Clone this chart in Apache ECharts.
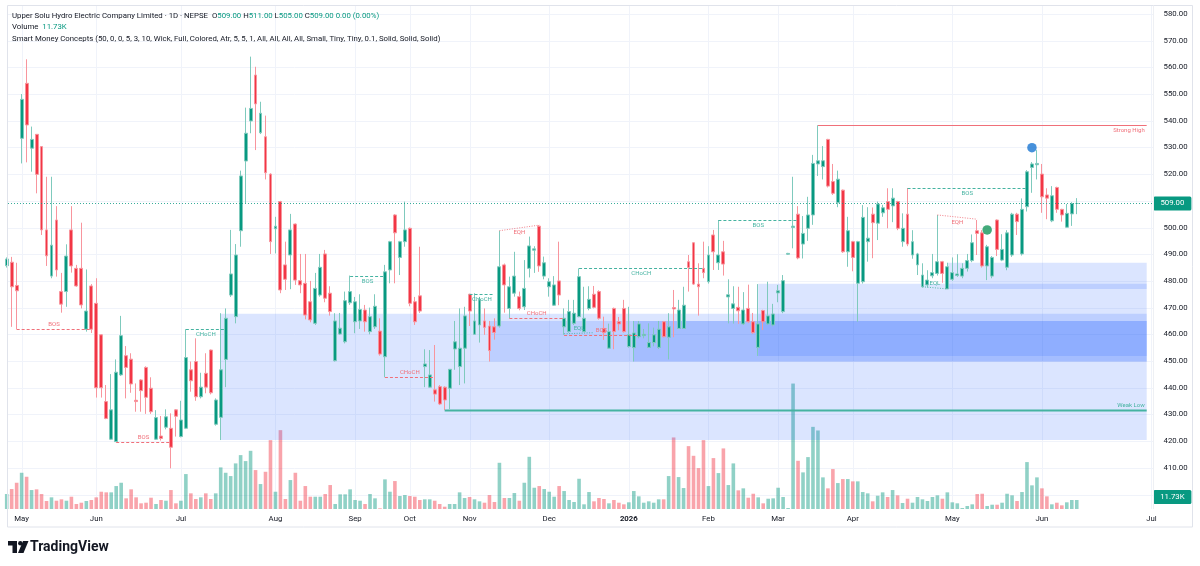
<!DOCTYPE html>
<html><head><meta charset="utf-8">
<script src="https://cdn.jsdelivr.net/npm/echarts@6/dist/echarts.min.js"></script>
<style>html,body{margin:0;padding:0;background:#fff}#c{width:1200px;height:566px}</style>
</head><body><div id="c"></div>
<script>
const opens=[485.7,487.0,478.3,533.4,554.0,529.7,534.9,530.3,499.1,481.8,
502.8,476.0,476.0,499.1,484.7,484.7,461.9,478.1,471.6,459.8,
434.8,420.7,419.8,444.8,452.0,450.7,435.3,442.9,447.6,439.8,
420.7,421.9,425.2,424.8,431.7,421.7,424.8,446.7,449.8,436.6,
445.4,454.1,426.3,428.9,450.6,474.7,466.6,498.8,524.9,539.9,
557.1,535.5,534.0,520.0,499.5,509.7,486.0,489.7,501.3,480.1,
479.1,472.2,464.1,474.7,490.1,475.4,450.1,460.1,457.2,471.8,
464.7,465.0,469.1,461.0,462.8,461.2,451.6,484.1,504.7,488.8,
494.7,499.7,472.2,474.4,447.9,440.2,439.2,440.4,440.2,439.8,
454.5,447.9,454.8,475.0,460.0,463.5,465.0,463.1,462.8,463.1,
486.0,469.7,475.4,474.1,470.3,484.7,491.5,500.5,481.8,477.8,
470.9,480.0,462.8,461.0,464.1,466.6,461.0,469.7,475.0,476.0,
462.2,454.8,469.7,464.7,469.7,455.4,455.0,459.1,459.5,455.1,
456.9,455.1,464.7,458.9,470.0,462.2,462.2,487.2,494.3,478.8,
484.7,479.7,497.2,486.8,490.9,474.0,469.7,470.1,463.9,469.7,
464.7,455.1,468.9,463.9,463.5,475.5,468.5,490.0,500.0,505.0,
493.8,499.7,504.7,523.8,522.8,533.0,517.2,509.3,514.0,490.9,
494.7,479.1,479.7,494.7,505.0,501.6,505.5,509.7,508.1,509.7,
494.7,505.0,489.7,486.0,477.8,478.5,481.9,482.8,487.2,477.0,
480.6,482.0,481.8,484.7,487.6,498.8,498.0,485.6,481.8,502.8,
487.8,485.1,489.7,505.0,490.1,507.8,522.5,523.5,520.0,512.2,
502.5,515.0,506.8,500.1,505.1,509.0];
const highs=[488.8,489.0,486.8,550.0,563.0,537.8,535.0,530.5,519.0,519.0,
508.0,483.0,493.7,508.0,486.0,501.8,484.3,478.8,481.0,460.0,
441.0,445.1,450.6,466.9,455.6,452.9,441.6,443.2,448.0,443.9,
431.6,429.4,431.9,430.4,432.0,435.1,461.9,449.8,458.5,445.6,
452.9,454.3,436.0,467.9,469.7,499.1,493.8,521.3,544.9,564.0,
560.2,547.1,541.9,520.3,504.0,510.0,494.7,505.1,501.5,490.1,
490.1,480.0,483.0,490.1,491.6,478.0,467.9,468.0,476.0,482.0,
474.0,475.0,471.0,470.0,475.0,466.0,486.0,495.0,505.0,495.0,
509.7,500.0,474.0,492.8,454.4,454.1,456.0,441.0,440.5,447.0,
465.0,469.7,470.3,475.2,475.4,474.0,469.7,465.0,466.0,498.8,
486.5,481.6,490.9,476.0,487.8,496.6,493.0,500.9,489.1,481.0,
481.8,494.7,469.7,472.9,472.9,484.7,477.8,478.0,478.1,476.5,
466.6,464.0,470.0,466.5,472.9,470.3,465.0,465.0,462.0,464.1,
462.5,465.0,465.0,467.9,476.6,472.9,477.8,489.7,494.5,486.6,
494.7,493.0,499.1,502.8,495.0,480.6,478.0,477.8,475.8,478.6,
468.0,478.8,469.2,479.7,471.4,478.5,482.2,490.5,519.0,508.0,
504.3,511.5,527.2,538.3,530.5,533.2,523.8,521.3,514.2,504.0,
495.0,495.0,508.4,507.6,507.5,509.7,508.5,514.7,514.7,510.0,
505.3,514.8,499.0,490.5,486.6,484.0,490.1,504.7,487.5,486.8,
488.8,490.0,486.6,490.1,497.4,502.8,499.0,493.5,489.3,503.0,
497.5,499.0,505.5,505.5,510.9,521.5,524.5,529.0,523.8,514.7,
515.5,515.3,507.0,508.8,509.5,511.0];
const lows=[485.0,462.8,461.9,524.0,524.4,520.9,512.8,497.2,485.6,481.0,
481.6,468.1,470.3,483.1,477.8,469.7,461.0,460.5,436.3,436.3,
428.2,420.4,419.8,444.4,436.0,438.1,431.0,431.0,430.2,430.2,
420.4,420.2,424.4,409.8,421.7,421.4,424.5,438.5,435.1,436.0,
437.9,437.5,425.8,420.4,440.2,474.0,464.1,492.8,509.1,535.3,
529.0,535.0,518.0,490.1,490.3,475.4,476.6,476.9,478.5,475.4,
465.6,464.5,463.5,474.1,472.0,467.0,449.8,459.8,456.6,471.0,
460.4,462.0,461.0,460.0,462.0,452.0,443.9,479.1,479.1,482.2,
492.8,470.5,463.5,468.0,440.2,440.0,434.8,433.5,431.6,432.0,
446.7,441.0,441.6,463.1,459.8,456.9,459.8,449.8,458.0,462.5,
468.1,466.0,474.1,469.0,469.1,481.3,483.0,483.4,480.6,474.1,
470.6,470.9,459.8,460.6,463.5,466.4,460.8,469.0,469.7,465.5,
457.9,454.5,454.4,461.5,460.6,455.0,449.8,458.5,458.5,455.0,
455.5,454.5,458.8,450.6,458.9,462.0,462.0,476.0,478.5,467.0,
481.0,479.0,484.1,484.1,482.0,464.1,464.0,463.9,463.5,464.2,
460.2,451.9,461.6,463.5,463.0,472.0,467.9,489.8,492.2,488.1,
488.4,495.0,501.0,519.3,518.0,515.0,512.2,507.6,490.5,485.3,
483.6,464.7,479.0,487.2,488.5,495.3,504.0,499.7,502.0,499.0,
492.8,493.0,488.3,482.2,477.5,477.5,481.0,482.0,479.3,477.0,
480.0,481.5,481.0,483.5,487.0,489.7,485.0,480.3,481.0,489.3,
487.4,484.0,489.0,497.2,489.5,506.0,513.0,518.0,505.5,503.1,
502.0,505.5,502.2,500.0,500.6,505.0];
const closes=[488.2,477.8,476.3,548.0,538.4,533.0,519.9,499.1,489.4,493.4,
484.1,471.3,489.3,485.6,478.1,471.0,468.7,461.9,440.0,440.0,
428.5,431.7,445.8,459.5,447.6,441.4,434.8,438.9,436.4,431.0,
428.8,421.0,429.1,417.7,429.3,427.9,451.3,442.6,436.6,440.2,
440.2,438.1,435.4,446.7,466.0,482.6,489.7,519.3,535.3,544.6,
546.3,542.8,520.5,494.7,500.5,476.6,480.6,499.1,480.3,478.5,
467.2,465.4,477.2,485.1,473.5,468.5,465.0,462.3,472.6,476.0,
472.2,469.3,464.7,466.6,470.5,452.6,483.4,494.7,498.0,494.7,
499.1,471.6,464.7,468.7,448.9,444.8,437.6,433.9,435.4,446.9,
457.2,454.8,466.9,468.7,465.0,473.1,462.6,453.9,460.7,485.3,
478.5,477.8,481.8,469.7,477.2,493.1,492.0,485.6,486.8,479.7,
478.5,474.7,466.0,468.5,467.9,481.6,466.0,473.1,470.1,466.0,
460.6,461.0,461.0,463.9,461.0,459.8,460.5,463.9,460.0,456.9,
459.8,461.9,459.1,462.8,469.5,469.1,470.9,485.0,478.8,477.8,
483.1,489.7,490.9,489.7,486.3,474.8,471.4,468.8,469.1,464.7,
460.6,463.9,464.7,466.9,467.6,476.3,480.1,490.3,500.5,488.6,
497.8,504.7,524.0,525.0,525.0,515.5,512.8,518.1,490.9,498.8,
488.8,494.7,503.8,496.0,501.8,508.8,507.4,506.8,511.0,499.7,
499.7,493.8,494.7,490.1,482.2,480.3,483.1,487.2,482.8,485.3,
483.1,482.6,484.7,487.6,494.3,497.8,485.6,492.8,488.8,491.8,
491.8,498.0,505.0,502.2,506.8,520.9,523.8,524.0,511.5,511.0,
511.9,506.8,504.7,505.3,509.0,509.0];
const volumes=[19.5,26.0,34.2,47.2,42.0,24.7,25.6,19.5,10.4,15.2,
10.8,12.6,10.8,16.0,6.5,8.2,10.4,11.7,15.2,22.5,
21.7,21.7,29.9,34.2,13.9,25.6,15.2,7.4,8.2,14.7,
6.5,11.7,10.8,24.7,7.4,10.8,45.5,20.4,13.0,15.2,
20.4,13.0,20.4,54.2,47.2,42.9,59.4,70.2,62.4,75.8,
50.7,32.5,48.5,89.7,22.5,102.7,13.0,37.7,47.2,10.8,
29.9,16.0,16.0,16.0,19.5,31.2,6.5,19.1,19.1,25.6,
11.7,10.8,6.5,19.5,13.9,0.9,38.6,22.5,36.4,16.9,
18.2,16.9,16.0,11.7,12.6,12.6,10.8,6.5,3.0,6.5,
6.5,21.7,14.3,15.6,12.6,10.0,8.2,18.2,9.1,60.2,
14.3,14.3,20.8,10.8,34.2,68.0,27.7,29.9,26.0,22.5,
16.0,29.9,23.4,11.7,9.1,39.4,6.1,22.1,10.0,14.3,
13.0,7.4,11.7,8.2,6.1,8.7,23.4,16.5,8.2,10.0,
8.2,12.6,12.6,42.9,93.2,41.6,27.3,81.9,69.3,53.3,
89.7,29.9,66.3,46.8,78.9,31.2,59.4,24.3,26.9,14.7,
19.9,15.2,7.4,13.4,13.9,27.7,15.6,1.3,163.4,62.8,
47.7,67.6,107.0,102.3,41.2,26.9,52.0,33.8,39.0,39.0,
36.0,36.0,22.1,20.4,10.0,17.3,21.7,15.6,24.7,17.8,
7.8,13.4,8.2,15.6,12.6,10.4,15.6,17.8,13.4,21.7,
8.7,7.4,1.3,3.9,6.1,19.5,19.9,3.9,5.6,5.6,
8.2,19.9,17.8,10.4,22.1,61.1,30.8,41.2,26.9,16.5,
6.1,8.2,4.8,8.7,11.7,11.73];
const monthTicks=[[3,'May'],[18,'Jun'],[35,'Jul'],[54,'Aug'],[70,'Sep'],[81,'Oct'],[93,'Nov'],[109,'Dec'],[125,'2026'],[141,'Feb'],[155,'Mar'],[170,'Apr'],[190,'May'],[208,'Jun'],[230,'Jul']];
const gridPrices=[400,410,420,430,440,450,460,470,480,490,500,510,520,530,540,550,560,570,580];
const labelPrices=[400,410,420,430,440,450,460,470,480,490,500,520,530,540,550,560,570,580];
// order blocks: start bar, top, bottom
const zones=[[43,467.7,420.4],[97,465.0,449.8],[126,465.0,449.8],[151,478.9,451.9],[189,486.8,477.0]];
const zoneEnd=229.05;
// structure breaks: start bar, end bar, price, label, direction
const structures=[[2,17,461.9,'BOS','r'],[22,33,419.8,'BOS','r'],[36,44,461.9,'CHoCH','g'],[69,76,482.0,'BOS','g'],[76,86,443.9,'CHoCH','r'],[93,98,475.0,'CHoCH','g'],[101,112,466.0,'CHoCH','r'],[112,127,459.8,'BOS','r'],[115,140,484.7,'CHoCH','g'],[143,159,502.8,'BOS','g'],[181,205,514.8,'BOS','g']];
// equal highs / lows: bar1, price1, bar2, price2, label, direction
const equals=[[99,498.8,107,500.9,'EQH','r'],[112,460.2,118,460.6,'EQL','g'],[187,504.7,195,503.1,'EQH','r'],[184,477.8,189,477.0,'EQL','g']];
// swing levels: start bar, price, label, direction
const levels=[[163,538.3,'Strong High','r'],[88,431.6,'Weak Low','g']];
// markers: bar, price, colour
const markers=[[197,499.1,'#14965a'],[206,529.9,'#1976d2']];
const SLOTS=231;
const PRICE_MIN=394.57, PRICE_MAX=585.21, VOL_MAX=663;
const companyName='Upper Solu Hydro Electric Company Limited';

const G='#089981', R='#f23645', GL='#45b3a1', RL='#f0707a';
const FONT='Roboto', FS=7.8;
const cats=Array.from({length:SLOTS},(_,i)=>String(i));
const last=opens.length-1;
const tickMap={}; monthTicks.forEach(t=>tickMap[t[0]]=t[1]);
const f2=v=>v.toFixed(2);
const chg=closes[last]-closes[last-1];
const pct=chg/closes[last-1]*100;
const lastVolume=volumes[last];

const chart=echarts.init(document.getElementById('c'),null,{renderer:'canvas'});
const L=4.21, W=SLOTS*4.977;
const option={
  animation:false,
  backgroundColor:'#ffffff',
  textStyle:{fontFamily:FONT},
  grid:[
    {left:L,width:W,top:0,height:509},
    {left:L,width:W,top:0,height:509}
  ],
  xAxis:[
    {type:'category',gridIndex:0,data:cats,boundaryGap:true,show:false},
    {type:'value',gridIndex:0,min:-0.5,max:SLOTS-0.5,show:false},
    {type:'category',gridIndex:1,data:cats,boundaryGap:true,
      axisLine:{show:false},axisTick:{show:false},splitLine:{show:false},
      axisLabel:{interval:(i)=>tickMap[i]!==undefined,margin:6,fontSize:FS,color:'#131722',fontFamily:FONT,
        formatter:(v,i)=>{const t=tickMap[+v];if(t===undefined)return '';return /^\d{4}$/.test(t)?'{b|'+t+'}':t;},
        rich:{b:{fontWeight:'bold',fontSize:FS,color:'#131722',fontFamily:FONT}}}},
    {type:'value',gridIndex:1,min:-0.5,max:SLOTS-0.5,show:false}
  ],
  yAxis:[
    {type:'value',gridIndex:0,position:'right',min:PRICE_MIN,max:PRICE_MAX,show:false},
    {type:'value',gridIndex:1,min:0,max:VOL_MAX,show:false}
  ],
  series:[
    {type:'custom',name:'vgrid',xAxisIndex:3,yAxisIndex:1,z:0,silent:true,
      data:monthTicks.map(t=>[t[0],0]),
      renderItem:(params,api)=>{const cs=params.coordSys;const x=Math.round(api.coord([monthTicks[params.dataIndex][0],0])[0])+0.5;
        return {type:'line',shape:{x1:x,y1:6,x2:x,y2:cs.y+cs.height},style:{stroke:'#f0f3fa',lineWidth:1}};}},
    {type:'custom',name:'hgrid',xAxisIndex:1,yAxisIndex:0,z:0,silent:true,
      data:gridPrices.map(p=>[0,p]),
      renderItem:(params,api)=>{const cs=params.coordSys;const p=gridPrices[params.dataIndex];const y=Math.round(api.coord([0,p])[1])+0.5;
        const ch=[{type:'line',shape:{x1:8,y1:y,x2:cs.x+cs.width,y2:y},style:{stroke:'#f0f3fa',lineWidth:1}}];
        if(labelPrices.indexOf(p)>=0){ch.push({type:'text',x:cs.x+cs.width+9.7,y:y,style:{text:f2(p),fill:'#131722',fontSize:FS,fontFamily:FONT,align:'left',verticalAlign:'middle'}});}
        return {type:'group',children:ch};}},
    {type:'bar',name:'volume',xAxisIndex:2,yAxisIndex:1,barWidth:3.6,z:1,silent:true,
      data:volumes.map((v,i)=>({value:v,itemStyle:{color:closes[i]>=opens[i]?'rgba(8,153,129,0.45)':'rgba(242,54,69,0.45)'}}))},
    {type:'custom',name:'zones',xAxisIndex:1,yAxisIndex:0,z:2,silent:true,
      data:zones.map(z=>[z[0],z[1]]),
      renderItem:(params,api)=>{const z=zones[params.dataIndex];const a=api.coord([z[0],z[1]]),b=api.coord([zoneEnd,z[2]]);
        return {type:'rect',shape:{x:a[0],y:a[1],width:b[0]-a[0],height:b[1]-a[1]},style:{fill:'rgba(41,98,255,0.17)'}};}},
    {type:'candlestick',name:'price',xAxisIndex:0,yAxisIndex:0,z:3,barWidth:3.4,silent:true,
      data:opens.map((o,i)=>[o,closes[i],lows[i],highs[i]]),
      itemStyle:{color:G,color0:R,borderColor:'#7fcabd',borderColor0:'#f8959d',borderColorDoji:'#7fcabd',borderWidth:1}},
    {type:'custom',name:'structure',xAxisIndex:1,yAxisIndex:0,z:4,silent:true,
      data:structures.map(s=>[s[0],s[2]]),
      renderItem:(params,api)=>{const s=structures[params.dataIndex];const a=api.coord([s[0],s[2]]),b=api.coord([s[1],s[2]]);
        const col=s[4]==='g'?GL:RL;const y=Math.round(a[1])+0.5;const below=s[4]==='g';
        return {type:'group',children:[
          {type:'line',shape:{x1:a[0],y1:y,x2:b[0],y2:y},style:{stroke:col,lineWidth:1,lineDash:[3,2]}},
          {type:'text',x:(a[0]+b[0])/2,y:y+(below?4.8:-4.6),style:{text:s[3],fill:col,fontSize:6,fontFamily:FONT,align:'center',verticalAlign:'middle'}}]};}},
    {type:'custom',name:'equal',xAxisIndex:1,yAxisIndex:0,z:4,silent:true,
      data:equals.map(e=>[e[0],e[1]]),
      renderItem:(params,api)=>{const e=equals[params.dataIndex];const a=api.coord([e[0],e[1]]),b=api.coord([e[2],e[3]]);
        const col=e[5]==='g'?GL:RL;const below=e[5]==='r';const my=(a[1]+b[1])/2;
        return {type:'group',children:[
          {type:'line',shape:{x1:a[0],y1:a[1],x2:b[0],y2:b[1]},style:{stroke:col,lineWidth:1,lineDash:[1,1.5],opacity:0.9}},
          {type:'text',x:(a[0]+b[0])/2,y:my+(below?5:-4.8),style:{text:e[4],fill:col,fontSize:6,fontFamily:FONT,align:'center',verticalAlign:'middle'}}]};}},
    {type:'custom',name:'levels',xAxisIndex:1,yAxisIndex:0,z:4,silent:true,
      data:levels.map(l=>[l[0],l[1]]),
      renderItem:(params,api)=>{const l=levels[params.dataIndex];const a=api.coord([l[0],l[1]]),b=api.coord([zoneEnd,l[1]]);
        const col=l[3]==='g'?GL:RL;const y=Math.round(a[1])+0.5;const g=l[3]==='g';
        return {type:'group',children:[
          {type:'line',shape:{x1:a[0],y1:y,x2:b[0],y2:y},style:{stroke:col,lineWidth:g?2:1}},
          {type:'text',x:b[0]-2,y:y+(g?-5:5),style:{text:l[2],fill:col,fontSize:6,fontFamily:FONT,align:'right',verticalAlign:'middle'}}]};}},
    {type:'scatter',name:'markers',xAxisIndex:1,yAxisIndex:0,z:5,silent:true,symbolSize:9.5,
      data:markers.map(m=>({value:[m[0],m[1]],itemStyle:{color:m[2]}}))},
    {type:'custom',name:'lastPrice',xAxisIndex:1,yAxisIndex:0,z:6,silent:true,data:[[0,closes[last]]],
      renderItem:(params,api)=>{const cs=params.coordSys;const y=Math.round(api.coord([0,closes[last]])[1])+0.5;const xr=cs.x+cs.width;
        return {type:'group',children:[
          {type:'line',shape:{x1:8,y1:y,x2:xr,y2:y},style:{stroke:G,lineWidth:1,lineDash:[1,2],opacity:0.8}},
          {type:'rect',shape:{x:xr-0.5,y:y-7,width:38,height:14,r:1.5},style:{fill:G}},
          {type:'text',x:xr+18.5,y:y,style:{text:f2(closes[last]),fill:'#fff',fontSize:FS,fontFamily:FONT,align:'center',verticalAlign:'middle'}}]};}},
    {type:'custom',name:'lastVol',xAxisIndex:3,yAxisIndex:1,z:6,silent:true,data:[[last,lastVolume]],
      renderItem:(params,api)=>{const cs=params.coordSys;let y=api.coord([last,lastVolume])[1];y=Math.min(y,cs.y+cs.height-12);const xr=cs.x+cs.width;
        return {type:'group',children:[
          {type:'rect',shape:{x:xr-0.5,y:y-7,width:38,height:14,r:1.5},style:{fill:G}},
          {type:'text',x:xr+18.5,y:y,style:{text:lastVolume.toFixed(2)+'K',fill:'#fff',fontSize:FS,fontFamily:FONT,align:'center',verticalAlign:'middle'}}]};}}
  ],
  graphic:[
    {type:'rect',z:10,silent:true,shape:{x:7.5,y:5.5,width:1185,height:521.5},style:{fill:'none',stroke:'#e0e3eb',lineWidth:1}},
    {type:'line',z:10,silent:true,shape:{x1:1153.5,y1:5.5,x2:1153.5,y2:509},style:{stroke:'#eef0f4',lineWidth:1}},
    {type:'text',z:11,x:12,y:16,style:{verticalAlign:'middle',
      text:'{d|'+companyName+' · 1D · NEPSE  O}{g|'+f2(opens[last])+'}{d| H}{g|'+f2(highs[last])+'}{d| L}{g|'+f2(lows[last])+'}{d| C}{g|'+f2(closes[last])+'}{d| }{g|'+f2(chg)+' ('+f2(pct)+'%)}',
      rich:{d:{fill:'#131722',fontSize:FS,fontFamily:FONT},g:{fill:G,fontSize:FS,fontFamily:FONT}}}},
    {type:'text',z:11,x:12,y:27.5,style:{verticalAlign:'middle',
      text:'{d|Volume  }{g|'+lastVolume.toFixed(2)+'K}',
      rich:{d:{fill:'#131722',fontSize:FS,fontFamily:FONT},g:{fill:G,fontSize:FS,fontFamily:FONT}}}},
    {type:'text',z:11,x:12,y:39,style:{verticalAlign:'middle',fill:'#131722',fontSize:FS,fontFamily:FONT,
      text:'Smart Money Concepts (50, 0, 0, 5, 3, 10, Wick, Full, Colored, Atr, 5, 5, 1, All, All, All, All, Small, Tiny, Tiny, 0.1, Solid, Solid, Solid)'}},
    {type:'group',z:11,silent:true,children:[
      {type:'rect',shape:{x:8,y:541,width:9,height:4.5},style:{fill:'#131722'}},
      {type:'rect',shape:{x:12.5,y:541,width:4.5,height:12},style:{fill:'#131722'}},
      {type:'circle',shape:{cx:20.3,cy:543.3,r:2.2},style:{fill:'#131722'}},
      {type:'polygon',shape:{points:[[23,541],[28.5,541],[23.5,553],[18,553]]},style:{fill:'#131722'}},
      {type:'text',x:30,y:547.5,style:{text:'TradingView',fill:'#131722',fontSize:14,fontWeight:'bold',fontFamily:FONT,verticalAlign:'middle'}}
    ]}
  ]
};
chart.setOption(option);
</script></body></html>
